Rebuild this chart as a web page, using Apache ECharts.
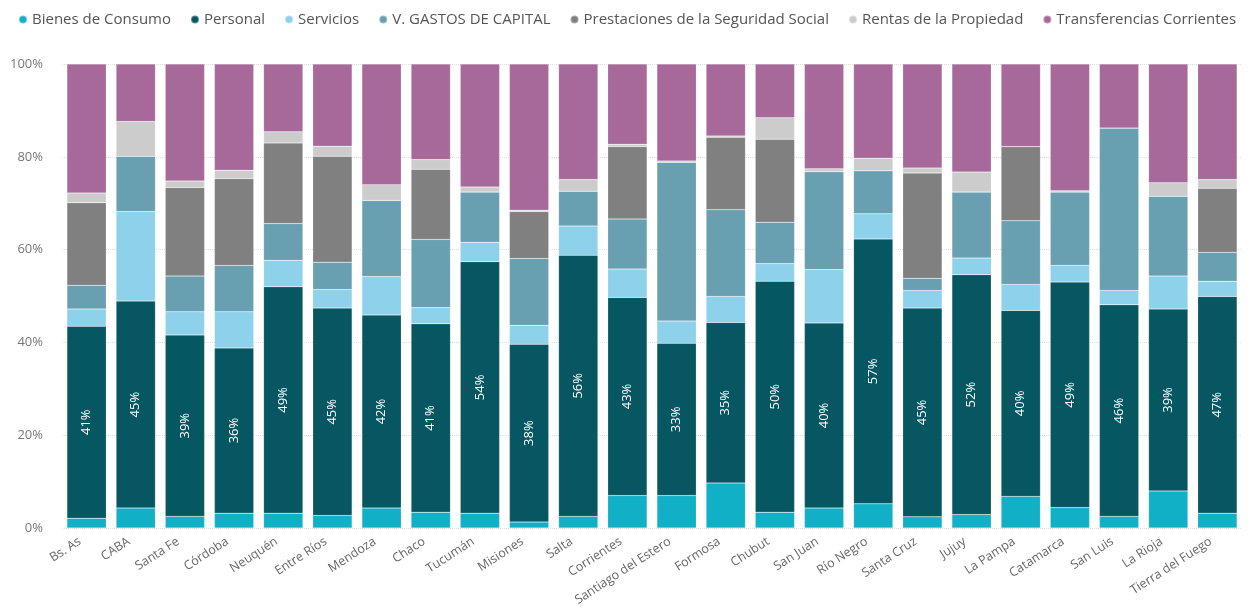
<!DOCTYPE html>
<html>
<head>
<meta charset="utf-8">
<script src="https://cdn.jsdelivr.net/npm/echarts@6/dist/echarts.min.js"></script>
<style>
  html, body { margin: 0; padding: 0; background: #fff; }
  #main { width: 1251px; height: 615px; }
</style>
</head>
<body>
<div id="main"></div>
<script>
// provincias
var provincias = ['Bs. As', 'CABA', 'Santa Fe', 'Córdoba', 'Neuquén', 'Entre Ríos', 'Mendoza', 'Chaco',
    'Tucumán', 'Misiones', 'Salta', 'Corrientes', 'Santiago del Estero', 'Formosa', 'Chubut', 'San Juan',
    'Río Negro', 'Santa Cruz', 'Jujuy', 'La Pampa', 'Catamarca', 'San Luis', 'La Rioja', 'Tierra del Fuego'];

// porcentajes por concepto (% del gasto total)
var bienesConsumo = [2.1, 4.3, 2.5, 3.2, 3.2, 2.7, 4.3, 3.4, 3.2, 1.3, 2.5, 7.0, 7.0, 9.7, 3.4, 4.3, 5.2, 2.4, 2.9, 6.8, 4.4, 2.5, 8.0, 3.2];
var personal = [41.4, 44.6, 39.1, 35.6, 48.8, 44.7, 41.6, 40.6, 54.2, 38.3, 56.3, 42.7, 32.8, 34.6, 49.8, 39.9, 57.1, 45.0, 51.7, 40.1, 48.6, 45.6, 39.2, 46.7];
var servicios = [3.7, 19.3, 5.0, 7.8, 5.7, 4.0, 8.3, 3.5, 4.2, 4.1, 6.3, 6.1, 4.8, 5.6, 3.8, 11.5, 5.4, 3.8, 3.6, 5.6, 3.6, 3.1, 7.1, 3.3];
var gastosCapital = [5.1, 11.9, 7.7, 10.0, 7.9, 5.9, 16.4, 14.7, 10.8, 14.4, 7.5, 10.8, 34.2, 18.7, 8.9, 21.1, 9.3, 2.6, 14.2, 13.7, 15.8, 35.0, 17.2, 6.2];
var prestaciones = [17.8, 0, 19.1, 18.7, 17.4, 22.8, 0, 15.1, 0, 10.1, 0, 15.6, 0, 15.6, 17.9, 0, 0, 22.7, 0, 16.0, 0, 0, 0, 13.8];
var rentas = [2.1, 7.5, 1.4, 1.8, 2.4, 2.2, 3.4, 2.1, 1.1, 0.3, 2.5, 0.5, 0.3, 0.3, 4.6, 0.6, 2.7, 1.1, 4.3, 0, 0.3, 0, 2.9, 1.9];
var transferencias = [27.8, 12.4, 25.2, 22.9, 14.6, 17.7, 26.0, 20.6, 26.5, 31.5, 24.9, 17.3, 20.9, 15.5, 11.6, 22.6, 20.3, 22.4, 23.3, 17.8, 27.3, 13.8, 25.6, 24.9];

var yTicks = [0, 20, 40, 60, 80, 100];

var myChart = echarts.init(document.getElementById('main'));

function serie(nombre, datos, color, conEtiqueta) {
    var s = {
        name: nombre,
        type: 'bar',
        stack: 'total',
        data: datos,
        barCategoryGap: '20%',
        itemStyle: { color: color, borderColor: 'rgba(255,255,255,0.35)', borderWidth: 0.5 },
        emphasis: { disabled: true }
    };
    if (conEtiqueta) {
        s.label = {
            show: true,
            position: 'inside',
            rotate: 90,
            color: '#fff',
            fontSize: 13,
            fontFamily: 'Open Sans',
            formatter: function (p) { return Math.round(p.value) + '%'; }
        };
    }
    return s;
}

var option = {
    animation: false,
    textStyle: { fontFamily: 'Open Sans' },
    legend: {
        top: 12,
        left: 18,
        width: 1230,
        padding: 0,
        itemGap: 19,
        icon: 'circle',
        itemWidth: 8,
        itemHeight: 8,
        textStyle: { color: '#555', fontSize: 15, fontFamily: 'Open Sans' }
    },
    grid: { left: 62, right: 9, top: 64, bottom: 87 },
    xAxis: {
        type: 'category',
        data: provincias,
        axisLine: { show: false },
        axisTick: { show: false },
        axisLabel: { rotate: 33, color: '#666', fontSize: 12.5, margin: 8, padding: [0, 8, 0, 0], interval: 0 }
    },
    yAxis: {
        type: 'value',
        min: yTicks[0],
        max: yTicks[yTicks.length - 1],
        interval: 20,
        axisLabel: { color: '#777', fontSize: 13, margin: 19, formatter: '{value}%' },
        splitLine: { lineStyle: { color: '#ddd', type: 'dotted', width: 1 } }
    },
    series: [
        serie('Bienes de Consumo', bienesConsumo, '#12B0C6', false),
        serie('Personal', personal, '#075762', true),
        serie('Servicios', servicios, '#8DD1EA', false),
        serie('V. GASTOS DE CAPITAL', gastosCapital, '#689FB1', false),
        serie('Prestaciones de la Seguridad Social', prestaciones, '#808080', false),
        serie('Rentas de la Propiedad', rentas, '#CCCCCC', false),
        serie('Transferencias Corrientes', transferencias, '#A66999', false)
    ]
};

myChart.setOption(option);
</script>
</body>
</html>
